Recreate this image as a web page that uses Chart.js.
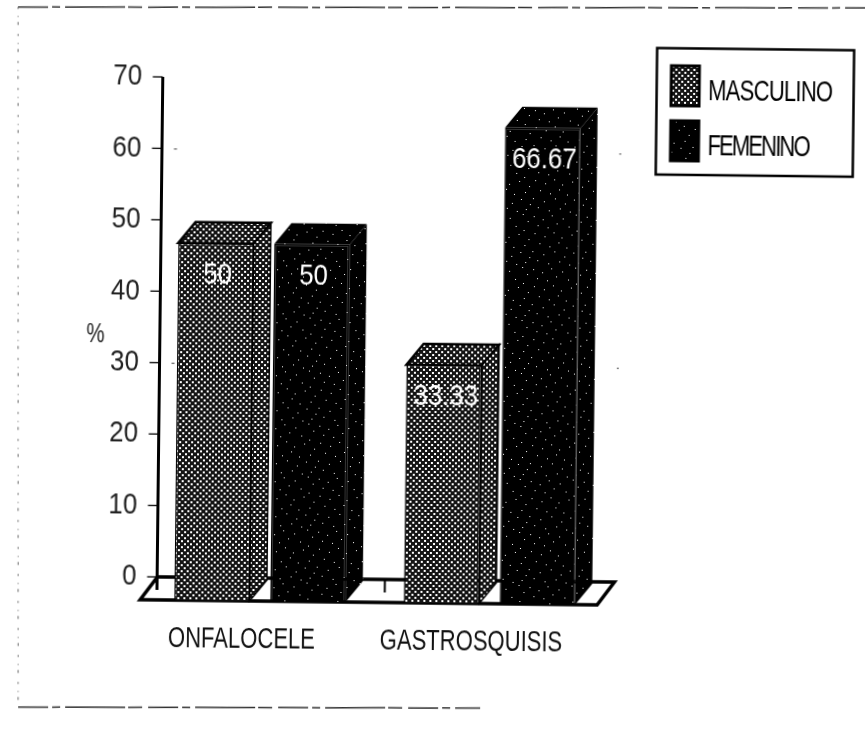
<!DOCTYPE html>
<html><head><meta charset="utf-8">
<style>html,body{margin:0;padding:0;background:#fff;overflow:hidden}
#wrap{width:865px;height:738px}
canvas{display:block;transform:rotate(0.65deg);transform-origin:432px 369px}</style>
<script src="https://cdn.jsdelivr.net/npm/chart.js@4/dist/chart.umd.min.js"></script>
</head><body><div id="wrap"><canvas id="c" width="865" height="738"></canvas></div>
<script>
const categories = ['ONFALOCELE','GASTROSQUISIS'];
const seriesNames = ['MASCULINO','FEMENINO'];
const masculino = [50, 33.33];
const femenino = [50, 66.67];
const tickValues = [0,10,20,30,40,50,60,70];
const axisLabel = '%';
const FONT = '"Liberation Sans",Arimo,sans-serif';
const DEPTH_X = 17, DEPTH_Y = 21;

function makePattern(size, dots, fg, bg){
  const p = document.createElement('canvas'); p.width = p.height = size;
  const g = p.getContext('2d'); g.fillStyle = bg; g.fillRect(0,0,size,size);
  g.fillStyle = fg; dots.forEach(d => g.fillRect(d[0],d[1],d[2]||1,d[3]||1));
  return g.createPattern(p,'repeat');
}
const ctx0 = document.getElementById('c').getContext('2d');
// horizontally condensed text, as in the reference's narrow type
const rawFill = ctx0.fillText.bind(ctx0);
ctx0.fillText = function(s,x,y){
  const numeric = /^[\d.]+$/.test(String(s));
  ctx0.save(); ctx0.translate(x,y); ctx0.scale(numeric?0.86:0.76,1);
  rawFill(s,0,0); ctx0.restore();
};
const mascPat = makePattern(6,[[0,0,2,2],[3,3,2,2]],'#ffffff','#141414');
const femPat = makePattern(53,[[2,3],[11,6],[20,2],[31,5],[44,1],[49,8],[6,12],[16,14],[25,10],[37,13],[45,17],[3,20],[13,23],[22,19],[30,24],[40,21],[50,26],[8,30],[18,33],[27,29],[35,34],[46,32],[1,38],[12,41],[23,38],[33,43],[42,39],[51,44],[6,47],[17,50],[28,48],[38,51],[47,49]],'#ffffff','#000000');
const pats = [mascPat, femPat];

const threeD = {
  id:'threeD',
  beforeDatasetsDraw(chart){
    const c = chart.ctx, a = chart.chartArea, yF = chart.scales.yFront, y = chart.scales.y, x = chart.scales.x;
    c.save();
    const fy = yF.getPixelForValue(0), l = a.left-5, r = a.right-7;
    c.beginPath(); c.moveTo(l,fy); c.lineTo(r,fy); c.lineTo(r+DEPTH_X,fy-23); c.lineTo(l+DEPTH_X,fy-23); c.closePath();
    c.fillStyle='#fff'; c.fill(); c.lineWidth=3.5; c.strokeStyle='#000'; c.stroke();
    const ax = a.left+11.7;
    c.lineWidth=3; c.beginPath(); c.moveTo(ax,y.getPixelForValue(70)); c.lineTo(ax,fy-10); c.stroke();
    c.lineWidth=1.3;
    tickValues.forEach(v=>{const p=y.getPixelForValue(v); c.beginPath(); c.moveTo(ax-10,p); c.lineTo(ax,p); c.stroke();});
    const bx=(x.getPixelForValue(0)+x.getPixelForValue(1))/2+10;
    c.lineWidth=2; c.beginPath(); c.moveTo(bx,fy-23); c.lineTo(bx,fy-10); c.stroke();
    // faint specks left by the dotted grid at the back wall
    c.fillStyle='#444';
    [30,60].forEach(v=>{const p=y.getPixelForValue(v); c.fillRect(a.right+10,p,2,1); c.fillRect(ax+12,p,3,1);});
    chart.data.datasets.forEach((ds,i)=>{
      chart.getDatasetMeta(i).data.forEach(b=>{
        const L=b.x-b.width/2,R=b.x+b.width/2,T=b.y,B=b.base;
        c.fillStyle=pats[i];
        c.strokeStyle='#000'; c.lineWidth=2.5;
        c.beginPath(); c.moveTo(L,T); c.lineTo(L+DEPTH_X,T-DEPTH_Y); c.lineTo(R+DEPTH_X,T-DEPTH_Y); c.lineTo(R,T); c.closePath(); c.fill(); if(i===0) c.stroke();
        c.lineWidth=1.5;
        c.beginPath(); c.moveTo(R,T); c.lineTo(R+DEPTH_X,T-DEPTH_Y); c.lineTo(R+DEPTH_X,B-DEPTH_Y); c.lineTo(R,B); c.closePath(); c.fill(); if(i===0) c.stroke();
      });
    });
    c.restore();
  },
  afterDatasetsDraw(chart){
    const c = chart.ctx;
    c.save();
    c.fillStyle='#fff'; c.font='30px '+FONT; c.textAlign='center'; c.textBaseline='middle';
    chart.data.datasets.forEach((ds,i)=>{
      chart.getDatasetMeta(i).data.forEach((b,j)=>{
        c.fillText(String(ds.data[j]), b.x+2, b.y+32);
      });
    });
    c.restore();
  },
  afterDraw(chart){
    const c = chart.ctx, y = chart.scales.y;
    c.save();
    c.fillStyle='#222'; c.font='27px '+FONT; c.textAlign='center'; c.textBaseline='middle';
    c.fillText(axisLabel, 95, (y.top+y.bottom)/2-3);
    c.strokeStyle='#000'; c.lineWidth=2.5; c.strokeRect(653.5,45.5,197,126.5);
    const rows=[[63,40,89],[118,40,144]];
    rows.forEach((r,i)=>{
      c.fillStyle=pats[i]; c.fillRect(668,r[0],28,r[1]);
      c.strokeStyle='#000'; c.lineWidth=3; c.strokeRect(668,r[0],28,r[1]);
      c.fillStyle='#000'; c.font='29px '+FONT; c.textAlign='left'; c.textBaseline='middle';
      c.letterSpacing= i===1?'-2.5px':'-1px';
      c.fillText(seriesNames[i],705,r[2]);
    });
    c.letterSpacing='0px';
    c.strokeStyle='#333';
    c.lineWidth=1.5; c.setLineDash([30,4,8,5,60,3,14,6]);
    c.beginPath(); c.moveTo(14,11.7); c.lineTo(861,3.1); c.stroke();
    c.beginPath(); c.moveTo(22,711.7); c.lineTo(484,707.5); c.stroke();
    c.lineWidth=1; c.strokeStyle='#666'; c.setLineDash([2,7,1,5,3,9]);
    c.beginPath(); c.moveTo(14,11.7); c.lineTo(22,711.7); c.stroke();
    c.restore();
  }
};

new Chart(ctx0,{
  type:'bar',
  data:{labels:categories,datasets:[
    {label:seriesNames[0],data:masculino,backgroundColor:mascPat,borderColor:'#000',borderWidth:1.5,yAxisID:'yFront'},
    {label:seriesNames[1],data:femenino,backgroundColor:femPat,borderColor:'#000',borderWidth:1.5,yAxisID:'yFront'}
  ]},
  options:{
    responsive:false,animation:false,
    layout:{padding:{top:80,right:258.2,left:0,bottom:0}},
    categoryPercentage:0.836,barPercentage:0.786,
    plugins:{legend:{display:false},tooltip:{enabled:false}},
    scales:{
      x:{grid:{display:false,drawTicks:false},border:{display:false},
        afterFit(s){s.height=135;},
        ticks:{padding:21.6,labelOffset:-18,color:'#111',font:{family:FONT,size:29},maxRotation:0,autoSkip:false}},
      y:{position:'left',min:-3.22,max:70,grid:{display:false,drawTicks:false},border:{display:false},
        afterBuildTicks(s){s.ticks=tickValues.map(v=>({value:v}));},
        afterFit(s){s.width=147.8;},
        ticks:{padding:9,color:'#222',autoSkip:false,font:{family:FONT,size:30},callback:v=>String(v)}},
      yFront:{display:false,min:0,max:73.22}
    }
  },
  plugins:[threeD]
});
</script></body></html>
